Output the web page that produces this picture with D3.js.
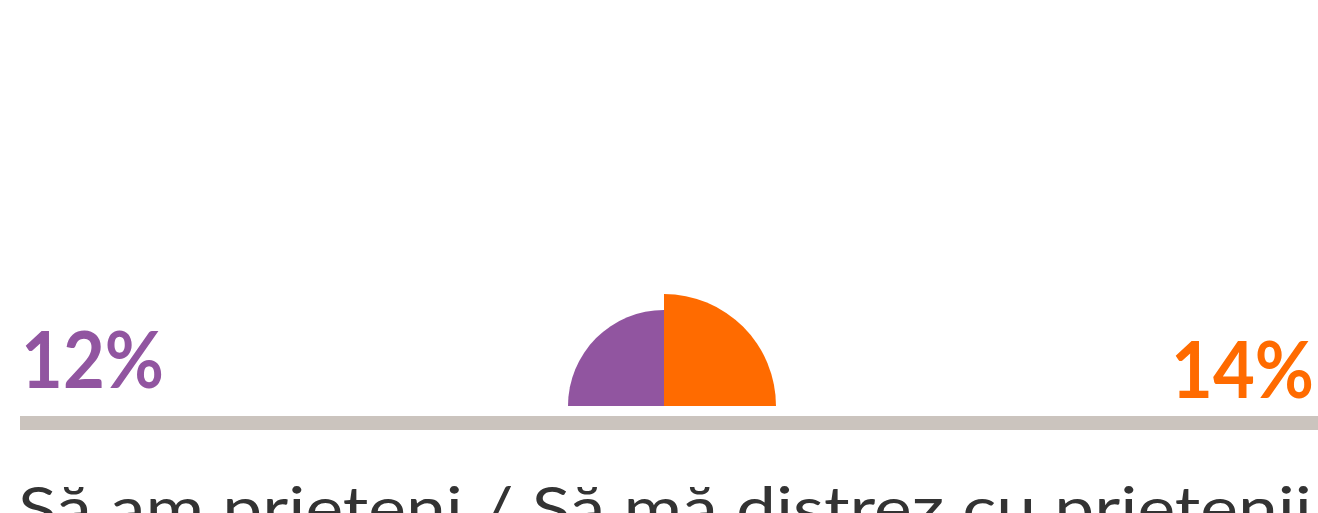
<!DOCTYPE html>
<html>
<head>
<meta charset="utf-8">
<script src="https://cdn.jsdelivr.net/npm/d3@7"></script>
<style>
  html, body { margin: 0; padding: 0; background: #fff; }
  svg { display: block; }
</style>
</head>
<body>
<svg id="chart" width="1318" height="513"></svg>
<script>
// Two groups compared as quarter circles sharing one vertical edge
const groups = ["left", "right"];
const values = [12, 14];
const labels = ["12%", "14%"];
const colors = ["#9155A0", "#FF6B00"];
const caption = "Să am prieteni / Să mă distrez cu prietenii";

const svg = d3.select("#chart");
const W = 1318;
const cx = 664, baseY = 406;

// Radius grows linearly with the value
const r = d3.scaleLinear().domain([0, 14]).range([0, 112]);

const arc = d3.arc().innerRadius(0);
const angles = [[-Math.PI / 2, 0], [0, Math.PI / 2]];

svg.append("g")
  .attr("transform", `translate(${cx},${baseY})`)
  .selectAll("path")
  .data(values)
  .join("path")
  .attr("d", (d, i) => arc({ outerRadius: r(d), startAngle: angles[i][0], endAngle: angles[i][1] }))
  .attr("fill", (d, i) => colors[i]);

// Baseline bar
svg.append("rect")
  .attr("x", 20).attr("y", 416)
  .attr("width", W - 20).attr("height", 14)
  .attr("fill", "#CBC4BE");

// Value labels
svg.selectAll("text.val")
  .data(values)
  .join("text")
  .attr("class", "val")
  .attr("x", (d, i) => i === 0 ? 21 : 1314)
  .attr("y", (d, i) => i === 0 ? 388 : 398)
  .attr("text-anchor", (d, i) => i === 0 ? "start" : "end")
  .attr("font-family", "Lato, 'Open Sans', sans-serif")
  .attr("font-weight", 700)
  .attr("font-size", 79)
  .attr("textLength", 143)
  .attr("lengthAdjust", "spacingAndGlyphs")
  .attr("fill", (d, i) => colors[i])
  .text((d, i) => labels[i]);

// Category caption
svg.append("text")
  .attr("x", 18).attr("y", 530)
  .attr("font-family", "Lato, 'Open Sans', sans-serif")
  .attr("font-size", 60)
  .attr("textLength", 1294)
  .attr("lengthAdjust", "spacingAndGlyphs")
  .attr("fill", "#333")
  .text(caption);
</script>
</body>
</html>
